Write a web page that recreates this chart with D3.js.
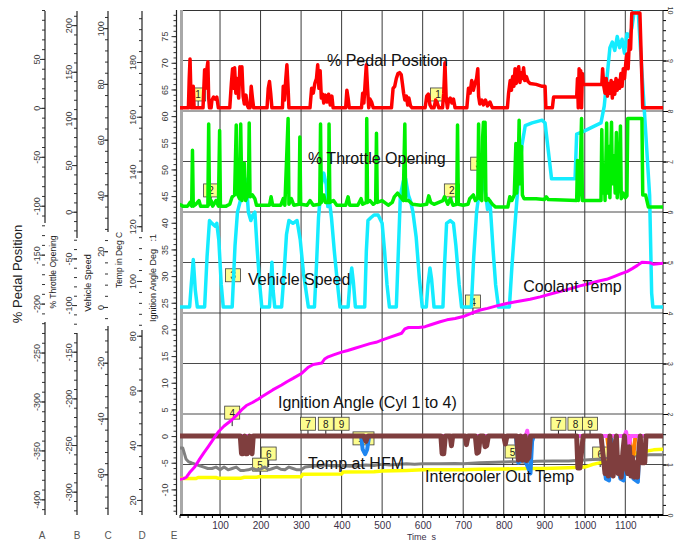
<!DOCTYPE html>
<html>
<head>
<meta charset="utf-8">
<script src="https://cdn.jsdelivr.net/npm/d3@7"></script>
<style>
  body { margin: 0; background: #fff; }
  svg { display: block; font-family: 'Liberation Sans', Arial, sans-serif; }
</style>
</head>
<body>
<div id="chart"></div>
<script>
// engine log: time (s) vs several channels, each on its own stacked axis

const timeTicks = [100, 200, 300, 400, 500, 600, 700, 800, 900, 1000, 1100]

// % pedal position [t, %]
const pedal = [
  [0, 0], [22, 0], [24, 30], [26, 50], [29, 0], [32, 0], [34, 22], [36, 0], [58, 0], [62, 39], [64, 20], [67, 38], [70, 47], [72, 10], [74, 0],
  [78, 0], [80, 8], [84, 11], [88, 9], [92, 11], [96, 0], [124, 0], [128, 25], [131, 40], [133, 20], [136, 41], [139, 15], [142, 30], [146, 10],
  [149, 42], [151, 25], [154, 42], [157, 12], [160, 4], [164, 13], [167, 3], [170, 0], [174, 0], [177, 22], [180, 10], [183, 0], [216, 0],
  [219, 20], [222, 27], [225, 15], [228, 0], [254, 0], [256, 22], [259, 8], [262, 28], [265, 44], [268, 20], [270, 0], [322, 0], [326, 20],
  [330, 15], [334, 25], [338, 30], [341, 44], [344, 20], [347, 38], [350, 10], [353, 14], [356, 5], [360, 13], [364, 6], [368, 14], [372, 3],
  [376, 12], [379, 0], [410, 0], [413, 18], [416, 10], [419, 0], [449, 0], [452, 15], [455, 5], [458, 25], [461, 44], [464, 20], [467, 0],
  [470, 9], [474, 6], [478, 0], [523, 0], [527, 20], [531, 22], [535, 30], [539, 35], [543, 36], [547, 34], [550, 25], [553, 15], [556, 8],
  [560, 12], [563, 3], [566, 10], [570, 2], [574, 0], [606, 0], [610, 12], [614, 14], [618, 3], [622, 0], [628, 0], [632, 8], [636, 5], [640, 0],
  [649, 0], [652, 15], [655, 46], [658, 10], [661, 0], [664, 8], [668, 10], [672, 5], [676, 9], [680, 0], [709, 0], [713, 20], [717, 15],
  [721, 28], [725, 18], [729, 25], [733, 30], [736, 40], [738, 12], [741, 4], [746, 8], [750, 3], [755, 8], [760, 2], [766, 6], [772, 0],
  [809, 0], [812, 15], [816, 28], [819, 18], [822, 32], [825, 22], [828, 40], [831, 25], [834, 38], [837, 42], [840, 26], [843, 36], [846, 30],
  [849, 41], [852, 28], [856, 32], [860, 27], [865, 25], [880, 24], [895, 22], [902, 22], [904, 0], [920, 0], [923, 11], [950, 11], [980, 11],
  [982, 30], [984, 0], [986, 40], [988, 5], [990, 38], [992, 0], [994, 35], [996, 24], [1042, 24], [1044, 40], [1047, 22], [1050, 15],
  [1053, 30], [1056, 12], [1059, 25], [1062, 15], [1065, 28], [1068, 10], [1071, 26], [1074, 14], [1077, 30], [1080, 18], [1083, 28],
  [1086, 20], [1089, 35], [1092, 22], [1095, 40], [1098, 30], [1101, 45], [1104, 55], [1107, 40], [1110, 69], [1113, 60], [1116, 97],
  [1136, 97], [1143, 0], [1193, 0]
]

// % throttle opening [t, %]
const throttle = [
  [0, 8], [8, 6], [20, 6], [26, 10], [30, 6], [32, 66], [34, 6], [40, 8], [48, 12], [52, 6], [70, 6], [72, 94], [74, 8], [78, 12], [82, 6],
  [90, 12], [96, 6], [99, 87], [101, 6], [115, 6], [124, 8], [130, 16], [136, 18], [140, 93], [142, 20], [148, 14], [151, 94], [154, 12],
  [160, 52], [163, 12], [170, 20], [172, 95], [174, 16], [180, 18], [186, 14], [190, 7], [222, 7], [226, 16], [230, 7], [250, 7], [256, 14],
  [260, 7], [268, 100], [270, 8], [276, 14], [282, 7], [295, 8], [297, 80], [299, 8], [315, 7], [322, 12], [330, 7], [346, 8], [348, 94],
  [350, 10], [356, 18], [360, 10], [368, 10], [369, 94], [371, 10], [380, 12], [388, 7], [410, 7], [416, 16], [420, 7], [440, 7], [448, 14],
  [452, 8], [461, 10], [462, 100], [464, 10], [470, 12], [478, 8], [484, 10], [486, 84], [488, 10], [500, 12], [515, 7], [525, 10], [530, 16],
  [538, 20], [545, 16], [552, 12], [556, 94], [558, 12], [565, 12], [575, 8], [595, 7], [610, 8], [615, 17], [620, 10], [628, 8], [650, 12],
  [654, 16], [662, 8], [668, 14], [675, 7], [684, 8], [686, 93], [688, 8], [700, 7], [712, 8], [716, 14], [725, 18], [730, 12], [736, 15],
  [738, 94], [740, 15], [746, 12], [748, 80], [750, 96], [752, 40], [754, 96], [756, 12], [762, 14], [772, 8], [780, 5], [810, 5], [815, 16],
  [820, 12], [826, 18], [830, 73], [832, 20], [836, 50], [838, 98], [840, 30], [844, 70], [846, 18], [850, 14], [880, 14], [900, 13],
  [905, 16], [910, 13], [980, 12], [982, 55], [984, 12], [988, 30], [992, 100], [994, 12], [1040, 12], [1042, 88], [1044, 20], [1048, 50],
  [1050, 12], [1054, 95], [1056, 20], [1060, 70], [1062, 15], [1066, 96], [1068, 30], [1072, 60], [1075, 20], [1078, 85], [1080, 15],
  [1085, 40], [1088, 92], [1090, 14], [1095, 20], [1100, 15], [1104, 17], [1106, 100], [1141, 100], [1143, 18], [1150, 18], [1157, 5], [1193, 5]
]

// vehicle speed [t, km/h]
const speed = [
  [0, 0], [25, 0], [29, 8], [34, 17], [39, 6], [44, 0], [62, 0], [68, 18], [74, 31], [80, 30], [88, 29], [92, 30], [97, 24], [103, 8], [108, 0],
  [130, 0], [137, 22], [143, 34], [150, 38], [157, 44], [162, 46], [166, 42], [170, 34], [176, 31], [181, 33], [186, 34], [192, 20], [198, 8],
  [203, 0], [222, 0], [226, 10], [228, 16], [231, 6], [235, 0], [252, 0], [258, 12], [264, 26], [270, 31], [280, 30], [290, 31], [298, 24],
  [306, 12], [318, 0], [333, 0], [338, 15], [343, 32], [350, 44], [356, 48], [362, 44], [366, 36], [370, 38], [375, 32], [382, 20], [390, 8],
  [396, 0], [416, 0], [420, 8], [425, 14], [429, 9], [434, 0], [457, 0], [461, 20], [465, 31], [472, 32], [480, 33], [490, 33], [500, 30],
  [506, 20], [512, 8], [518, 0], [535, 0], [540, 20], [545, 40], [552, 45], [558, 46], [565, 40], [570, 38], [576, 34], [584, 25], [592, 10],
  [599, 0], [609, 0], [613, 8], [618, 14], [622, 10], [628, 0], [650, 0], [654, 15], [659, 30], [668, 31], [676, 30], [682, 22], [690, 8],
  [696, 0], [720, 0], [726, 18], [733, 34], [740, 42], [748, 46], [756, 40], [760, 35], [766, 38], [774, 20], [780, 8], [787, 0], [814, 0],
  [820, 14], [828, 30], [836, 45], [845, 58], [853, 65], [870, 66], [895, 67], [902, 66], [910, 56], [918, 46], [976, 46], [980, 62], [997, 63],
  [1040, 66], [1048, 72], [1056, 84], [1062, 93], [1068, 95], [1074, 92], [1080, 97], [1086, 93], [1092, 96], [1098, 91], [1104, 98],
  [1110, 97], [1116, 100], [1122, 106], [1130, 110], [1160, 40], [1165, 5], [1168, 0], [1193, 0]
]

// coolant temp [t, degC]
const coolant = [
  [0, 27.5], [10, 27.8], [17, 28.3], [25, 30], [38, 32.1], [50, 35], [60, 37.2], [71, 39.5], [84, 42.3], [96, 44.9], [110, 47], [129, 49.2],
  [140, 50.8], [153, 52.9], [165, 54.5], [180, 55.6], [194, 56.8], [203, 57.7], [215, 58.8], [230, 60.2], [252, 62], [265, 63.2], [280, 64.4],
  [302, 66.3], [318, 68.5], [330, 69.5], [351, 70], [358, 71.5], [367, 72.3], [380, 73], [400, 74], [415, 74.6], [433, 75.4], [450, 76.2],
  [470, 77.1], [485, 77.6], [499, 78.4], [520, 79.5], [548, 80.9], [556, 82.5], [565, 83], [590, 83], [606, 83.3], [620, 84], [643, 85.1],
  [660, 85.8], [680, 86.3], [700, 87], [720, 88.2], [742, 89.4], [760, 90], [780, 90.8], [807, 91.8], [830, 92.4], [865, 93.3], [890, 94.2],
  [922, 95.5], [945, 96.4], [965, 97.2], [988, 98.2], [1010, 99], [1030, 99.8], [1054, 100.6], [1075, 101.8], [1090, 102.7], [1104, 103.4],
  [1118, 104.6], [1130, 105.7], [1141, 106.8], [1161, 106.7], [1169, 106.1], [1193, 106.5]
]

// temp at HFM [t, degC]
const hfmTemp = [
  [0, 39], [8, 39], [12, 37], [16, 35], [22, 34], [30, 33.5], [40, 33], [50, 32.5], [60, 32], [70, 31.5], [80, 31.5], [90, 32], [100, 31],
  [110, 32], [120, 31], [130, 31.5], [140, 32], [150, 30.8], [160, 30.8], [170, 31], [180, 31.5], [190, 31], [200, 31.2], [210, 32], [220, 31],
  [230, 31.5], [240, 32], [250, 31.2], [260, 31], [270, 32], [280, 31.5], [290, 31], [300, 31], [310, 32], [320, 32.2], [340, 32.5],
  [360, 32.8], [380, 32.4], [400, 32.6], [420, 32.3], [440, 32.5], [460, 32.8], [480, 32.6], [500, 33], [520, 32.8], [540, 33], [560, 33.2],
  [580, 33], [600, 33.2], [640, 33.2], [680, 33.3], [700, 33.2], [740, 33.6], [780, 33.8], [820, 34], [850, 33.8], [880, 34.1], [920, 34.2],
  [960, 34.2], [1000, 34.6], [1040, 35], [1080, 35.4], [1120, 36], [1160, 36.5], [1193, 36.5]
]

// intercooler out temp [t, degC]
const icTemp = [
  [0, 27.8], [40, 27.8], [46, 28.2], [90, 28.2], [96, 27.9], [150, 27.9], [160, 28.3], [190, 28.3], [196, 28.5], [300, 28.5], [304, 29.4],
  [400, 29.5], [404, 30.2], [480, 30.3], [500, 30.6], [560, 30.8], [600, 31], [700, 31], [740, 31.2], [800, 31.3], [860, 31.5], [900, 31.5],
  [960, 31.8], [1000, 32], [1020, 33], [1050, 34], [1080, 35.5], [1110, 36.5], [1140, 37.5], [1170, 38.3], [1193, 38.5]
]

// ignition angle, cylinders 1 to 4 [t, deg]
const ign1 = [
  [0, 0], [150, 0], [153, -3.3], [157, -3.3], [159, -0.5], [161, 0], [163, -3.3], [167, -3.3], [170, -1], [173, 0], [176, -3], [179, -3.3],
  [182, 0], [455, 0], [460, -1], [465, 0], [645, 0], [648, -3.3], [652, -3.3], [656, 0], [668, 0], [671, -1.8], [674, 0], [705, 0], [708, -1.6],
  [712, 0], [730, 0], [734, -3.2], [738, -3], [742, 0], [750, 0], [754, -2], [758, -1.8], [762, 0], [800, 0], [804, -1.5], [808, 0], [832, 0],
  [836, -4.5], [840, -4], [842, 0], [846, -4.5], [850, -3], [853, 0], [856, -4.6], [862, -4], [866, 0], [980, 0], [983, -6], [988, -6],
  [992, -3], [996, 0], [1040, 0], [1050, -7], [1055, -5], [1058, -7.5], [1062, 0], [1066, -6], [1070, -7.5], [1074, -2], [1078, 0], [1082, -7],
  [1086, -4], [1090, -7.7], [1094, -3], [1098, 0], [1102, -6], [1106, -7], [1110, -2], [1114, -7.5], [1118, -4], [1122, -7.7], [1126, -5],
  [1130, -7.7], [1134, -2], [1137, 0], [1140, -5], [1148, -5], [1151, 0], [1193, 0]
]
const ign2 = [
  [0, 0], [448, 0], [452, -2.5], [458, -3.4], [463, -2.5], [468, 0], [830, 0], [836, -5], [850, -4], [858, -5.5], [866, -7], [870, -1],
  [874, 0], [1040, 0], [1052, -8], [1060, -8.3], [1064, 0], [1088, -8], [1096, -8.3], [1100, 0], [1120, -8], [1131, -8.6], [1136, 0], [1193, 0]
]
const ign3 = [
  [0, 0], [838, 0], [841, -1.5], [844, -1], [846, 0], [1055, 0], [1060, -3], [1068, -3.5], [1074, -2], [1078, 0], [1110, 0], [1114, -3],
  [1120, -3.5], [1125, 0], [1193, 0]
]
const ign4 = [
  [0, 0], [854, 0], [858, 1], [862, -1], [866, 0], [1098, 0], [1102, 0.8], [1106, -1], [1110, -1.5], [1113, 0], [1193, 0]
]

// channel names placed in the plot [text, t, grid units]
const channelLabels = [
  ['% Pedal Position', 364, 8.89],
  ['% Throttle Opening', 317, 6.95],
  ['Vehicle Speed', 169, 4.55],
  ['Coolant Temp', 848, 4.42],
  ['Ignition Angle (Cyl 1 to 4)', 243, 2.12],
  ['Temp at HFM', 317, 0.91],
  ['Intercooler Out Temp', 606, 0.65]
]

// numbered marker flags [label, t, grid units of the point]
const flags = [
  ['6', 220, 0.95], ['5', 199, 0.73], ['1', 46, 8.06], ['1', 638, 8.06], ['2', 78, 6.16], ['2', 672, 6.16], ['3', 737, 6.69],
  ['3', 132, 4.48], ['4', 724, 3.96], ['4', 130, 1.76], ['7', 317, 1.54], ['8', 361, 1.54], ['9', 400, 1.54], ['10', 454, 1.25],
  ['5', 822, 0.99], ['7', 935, 1.54], ['8', 977, 1.54], ['9', 1013, 1.54], ['6', 1038, 0.95]
]

const W = 674, H = 541
const L = 180, R = 663, T = 10, B = 515

const svg = d3.select('#chart').append('svg').attr('width', W).attr('height', H)

const x = d3.scaleLinear().domain([0, 1193]).range([179.5, R])
const yGrid = d3.scaleLinear().domain([0, 10]).range([B, T])
const yPedal = d3.scaleLinear().domain([-416, 100]).range([B, T])
const yThrottle = d3.scaleLinear().domain([-325, 216.2]).range([B, T])
const ySpeed = d3.scaleLinear().domain([-74.6, 106.5]).range([B, T])
const yTemp = d3.scaleLinear().domain([14.5, 199]).range([B, T])
const yIgn = d3.scaleLinear().domain([-14.8, 79.9]).range([B, T])

function stepValues (scale, step) {
  const [d0, d1] = scale.domain()
  const first = Math.ceil(d0 / step) * step
  return d3.range(first, d1 + 1e-9, step).map(v => +v.toFixed(6))
}

// grid
const grid = svg.append('g')
grid.selectAll('line.h').data(d3.range(1, 10)).join('line')
  .attr('x1', L).attr('x2', R).attr('y1', d => yGrid(d)).attr('y2', d => yGrid(d))
  .attr('stroke', '#4a4a4a').attr('stroke-width', 1)
grid.selectAll('line.v').data(timeTicks).join('line')
  .attr('x1', d => x(d)).attr('x2', d => x(d)).attr('y1', T).attr('y2', B)
  .attr('stroke', '#3a3a3a').attr('stroke-width', 1)
grid.append('line').attr('x1', L).attr('x2', R).attr('y1', T + 0.5).attr('y2', T + 0.5).attr('stroke', '#333')
grid.append('rect').attr('x', L).attr('y', T).attr('width', 3).attr('height', B - T).attr('fill', '#a8a8a8')

// left axes
const leftAxes = [
  { letter: 'A', scale: yPedal, x: 45, labelX: 40, letterX: 42, major: 50, minor: 10, title: '% Pedal Position', titleX: 22, titleY: 274, titleSize: 13, gap: [223, 322] },
  { letter: 'B', scale: yThrottle, x: 77, labelX: 72, letterX: 77, major: 50, minor: 10, title: '% Throttle Opening', titleX: 56, titleY: 272, titleSize: 8.5, gap: [238, 333] },
  { letter: 'C', scale: ySpeed, x: 108, labelX: 104, letterX: 108, major: 20, minor: 4, title: 'Vehicle Speed', titleX: 91, titleY: 283, titleSize: 9, gap: [232, 326] },
  { letter: 'D', scale: yTemp, x: 142, labelX: 135.5, letterX: 142, major: 20, minor: 4, title: 'Temp in Deg C', titleX: 122, titleY: 260, titleSize: 8.5, gap: [232, 330] },
  { letter: 'E', scale: yIgn, x: 176.5, labelX: 168, letterX: 174, major: 5, minor: 1, title: 'Ignition Angle Deg   :1', titleX: 155.5, titleY: 278, titleSize: 9, gap: null }
]

leftAxes.forEach(ax => {
  const g = svg.append('g').attr('transform', 'translate(' + ax.x + ',0)')
  g.append('g')
    .call(d3.axisLeft(ax.scale).tickValues(stepValues(ax.scale, ax.minor)).tickSize(3).tickFormat(''))
    .call(s => s.select('.domain').remove())
    .selectAll('line').attr('stroke', '#333')
  const majors = stepValues(ax.scale, ax.major).filter(v => ax.scale(v) > 20)
  const mg = g.append('g')
    .call(d3.axisLeft(ax.scale).tickValues(majors).tickSize(5).tickFormat(d => String(d)))
    .call(s => s.select('.domain').remove())
  mg.attr('font-family', null).attr('font-size', null)
  mg.selectAll('line').attr('stroke', '#333')
  mg.selectAll('text')
    .attr('x', null).attr('dy', null)
    .attr('transform', 'translate(' + (ax.labelX - ax.x) + ',0) rotate(-90)')
    .attr('text-anchor', 'middle')
    .attr('font-size', 9).attr('fill', '#3a3a3a')

  const segs = ax.gap ? [[T + 1, ax.gap[0]], [ax.gap[1], B]] : [[T, B]]
  segs.forEach(s => {
    g.append('line').attr('x1', 0).attr('x2', 0).attr('y1', s[0]).attr('y2', s[1])
      .attr('stroke', '#222').attr('stroke-width', 1.2)
  })

  svg.append('text')
    .attr('transform', 'translate(' + ax.titleX + ',' + ax.titleY + ') rotate(-90)')
    .attr('text-anchor', 'middle').attr('font-size', ax.titleSize).attr('fill', '#222')
    .style('white-space', 'pre')
    .text(ax.title)

  svg.append('text')
    .attr('x', ax.letterX).attr('y', 539)
    .attr('text-anchor', 'middle').attr('font-size', 10).attr('fill', '#555')
    .text(ax.letter)
})

// right grid axis (labels squeezed in at the window edge)
const rg = svg.append('g').attr('transform', 'translate(' + R + ',0)')
rg.append('g')
  .call(d3.axisRight(yGrid).tickValues(d3.range(0, 10.01, 0.2)).tickSize(3).tickFormat(''))
  .call(s => s.select('.domain').remove())
const rmaj = rg.append('g')
  .call(d3.axisRight(yGrid).tickValues(d3.range(0, 11)).tickSize(5).tickFormat(d => String(d)))
  .call(s => s.select('.domain').remove())
rmaj.attr('font-family', null).attr('font-size', null)
rmaj.selectAll('text')
  .attr('x', null).attr('dy', null)
  .attr('transform', 'translate(4.5,0) rotate(90)')
  .attr('text-anchor', 'middle').attr('font-size', 7).attr('fill', '#333')
rg.append('line').attr('x1', 0).attr('x2', 0).attr('y1', T).attr('y2', B).attr('stroke', '#222')

// time axis
const xg = svg.append('g').attr('transform', 'translate(0,' + B + ')')
xg.append('g')
  .call(d3.axisBottom(x).tickValues(d3.range(0, 1193, 20)).tickSize(3).tickFormat(''))
  .call(s => s.select('.domain').remove())
const xmaj = xg.append('g')
  .call(d3.axisBottom(x).tickValues(timeTicks).tickSize(3).tickPadding(4).tickFormat(d => String(d)))
  .call(s => s.select('.domain').remove())
xmaj.attr('font-family', null).attr('font-size', null)
xmaj.selectAll('text').attr('font-size', 10).attr('fill', '#3a3048')
xg.append('line').attr('x1', L).attr('x2', R).attr('y1', 0).attr('y2', 0).attr('stroke', '#000').attr('stroke-width', 2)
svg.append('text').attr('x', (L + R) / 2).attr('y', 539.5).attr('text-anchor', 'middle')
  .attr('font-size', 9).attr('fill', '#3a3048').style('white-space', 'pre').text('Time  s')

// clip for traces
svg.append('clipPath').attr('id', 'plotClip')
  .append('rect').attr('x', L).attr('y', T).attr('width', R - L).attr('height', B - T)

// numbered flags sit under the traces
const fl = svg.append('g')
flags.forEach(f => {
  const px = x(f[1])
  const py = yGrid(f[2])
  const w = f[0].length > 1 ? 21 : 15
  fl.append('line').attr('x1', px).attr('x2', px).attr('y1', py - 7).attr('y2', py).attr('stroke', '#222')
  fl.append('rect').attr('x', px - w / 2).attr('y', py - 20).attr('width', w).attr('height', 13)
    .attr('fill', '#fdfd8e').attr('stroke', '#3c3c3c').attr('stroke-width', 0.8)
  fl.append('text').attr('x', px).attr('y', py - 9.5).attr('text-anchor', 'middle')
    .attr('font-size', 10).attr('fill', '#222').text(f[0])
})

// traces
const traces = [
  { data: speed, y: ySpeed, color: '#14ecff', width: 3.5 },
  { data: throttle, y: yThrottle, color: '#00f000', width: 3.5 },
  { data: pedal, y: yPedal, color: '#ff0000', width: 3.5 },
  { data: hfmTemp, y: yTemp, color: '#808080', width: 3 },
  { data: icTemp, y: yTemp, color: '#ffff00', width: 3.5 },
  { data: ign2, y: yIgn, color: '#1f86f0', width: 4 },
  { data: ign3, y: yIgn, color: '#ff8000', width: 4 },
  { data: ign4, y: yIgn, color: '#ff55ff', width: 4 },
  { data: ign1, y: yIgn, color: '#7f3e3e', width: 5 },
  { data: coolant, y: yTemp, color: '#ff00ff', width: 3 }
]

const tg = svg.append('g').attr('clip-path', 'url(#plotClip)')
traces.forEach(s => {
  const line = d3.line().x(d => x(d[0])).y(d => s.y(d[1]))
  tg.append('path').datum(s.data)
    .attr('d', line)
    .attr('fill', 'none')
    .attr('stroke', s.color)
    .attr('stroke-width', s.width)
    .attr('stroke-linejoin', 'round')
})

// channel names on top
svg.append('g').selectAll('text').data(channelLabels).join('text')
  .attr('x', d => x(d[1])).attr('y', d => yGrid(d[2]))
  .attr('font-size', 16).attr('fill', '#111')
  .text(d => d[0])
</script>
</body>
</html>
